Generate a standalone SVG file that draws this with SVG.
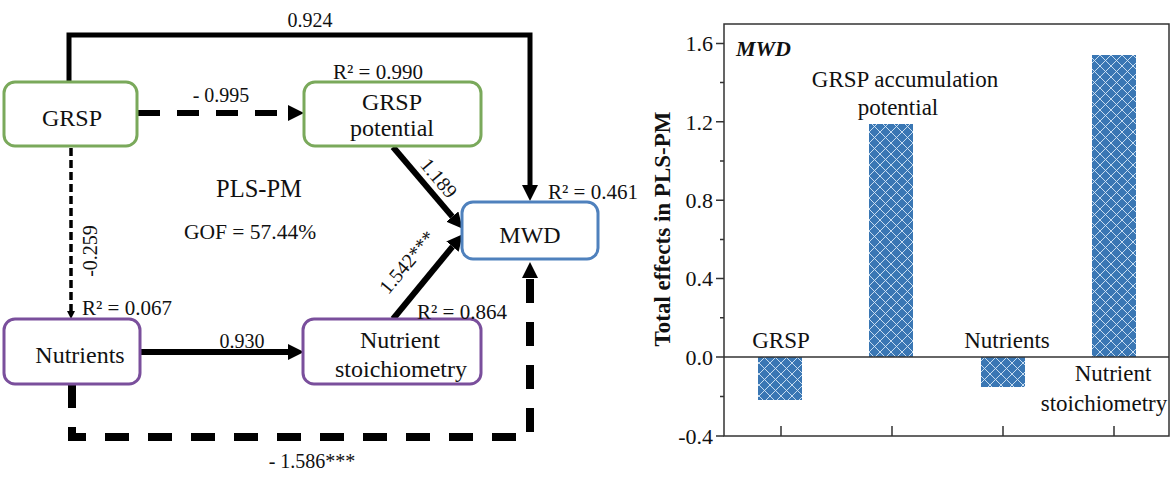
<svg xmlns="http://www.w3.org/2000/svg" width="1175" height="483" viewBox="0 0 1175 483" font-family="'Liberation Serif', 'DejaVu Serif', serif">
<style>
text{font-family:'Liberation Serif','DejaVu Serif',serif;fill:#111}
.node{fill:#fff;stroke-width:3}
.g{stroke:#7aa95b}
.p{stroke:#7a4f9c}
.b{stroke:#4f81bd}
.nt{font-size:24px;text-anchor:middle}
.r2{font-size:21px}
.el{font-size:20px;text-anchor:middle}
.big{text-anchor:middle}
.c{fill:none;stroke:#000}
.ax{stroke:#333;stroke-width:1.5;fill:none}
.tk{font-size:22px;text-anchor:end}
.cl{font-size:23px;text-anchor:middle}
.bar{fill:url(#hatch)}
</style>
<defs>
<marker id="ah" viewBox="0 0 16 16" refX="0" refY="8" markerWidth="16" markerHeight="16" markerUnits="userSpaceOnUse" orient="auto"><path d="M0,0 L16,8 L0,16 z" fill="#000"/></marker>
<marker id="ahs" viewBox="0 0 8 8" refX="0" refY="4" markerWidth="8" markerHeight="8" markerUnits="userSpaceOnUse" orient="auto"><path d="M0,0 L8,4 L0,8 z" fill="#000"/></marker>
<pattern id="hatch" patternUnits="userSpaceOnUse" width="11" height="11">
<rect width="11" height="11" fill="#3a77b4"/>
<path d="M0,0 L11,11 M11,0 L0,11 M-1,10 L1,12 M10,-1 L12,1 M-1,1 L1,-1 M10,12 L12,10" stroke="#d6e8f7" stroke-width="0.9"/>
</pattern>
</defs>
<rect width="1175" height="483" fill="#fff"/>

<g id="connectors">
<path class="c" d="M69,82 V35 H530 V185" stroke-width="5" marker-end="url(#ah)"/>
<path class="c" d="M138,113 H288" stroke-width="6" stroke-dasharray="22 17" marker-end="url(#ah)"/>
<path class="c" d="M71,148 V311" stroke-width="3.5" stroke-dasharray="8 4" marker-end="url(#ahs)"/>
<path class="c" d="M140,352 H288" stroke-width="6" marker-end="url(#ah)"/>
<path class="c" d="M393,147 L452.3,216.6" stroke-width="6" marker-end="url(#ah)"/>
<path class="c" d="M393,319 L452.5,246.6" stroke-width="6" marker-end="url(#ah)"/>
<path class="c" d="M72,384 V437 H530 V278" stroke-width="8" stroke-dasharray="24 19" marker-end="url(#ah)"/>
<text class="el" x="310" y="27">0.924</text>
<text class="el" x="221" y="102">- 0.995</text>
<text class="el" transform="translate(97,251) rotate(-90)">-0.259</text>
<text class="el" x="242" y="348">0.930</text>
<text class="el" transform="translate(439,178) rotate(50)" y="7">1.189</text>
<text class="el" transform="translate(407,262) rotate(-50)" y="7">1.542***</text>
<text class="el" x="312" y="468">- 1.586***</text>
</g>

<g id="node-grsp">
<rect class="node g" x="4" y="82" width="133" height="64" rx="11"/>
<text class="nt" x="72" y="126">GRSP</text>
</g>
<g id="node-grsp-potential">
<rect class="node g" x="304" y="82" width="177" height="64" rx="11"/>
<text class="nt" x="392" y="110">GRSP</text>
<text class="nt" x="392" y="136">potential</text>
<text class="r2" x="333" y="79">R² = 0.990</text>
</g>
<g id="node-mwd">
<rect class="node b" x="462" y="202" width="136" height="57" rx="11"/>
<text class="nt" x="530" y="243">MWD</text>
<text class="r2" x="548" y="199">R² = 0.461</text>
</g>
<g id="node-nutrients">
<rect class="node p" x="4" y="319" width="136" height="65" rx="11"/>
<text class="nt" x="80" y="363">Nutrients</text>
<text class="r2" x="82" y="315">R² = 0.067</text>
</g>
<g id="node-stoich">
<rect class="node p" x="303" y="319" width="178" height="65" rx="11"/>
<text class="nt" x="400" y="348">Nutrient</text>
<text class="nt" x="401" y="377">stoichiometry</text>
<text class="r2" x="417" y="319">R² = 0.864</text>
</g>

<g id="model-info">
<text class="big" x="259" y="197" style="font-size:24.5px">PLS-PM</text>
<text class="big" x="250" y="239" style="font-size:21.5px">GOF = 57.44%</text>
</g>

<g id="chart">
<rect class="bar" x="758" y="357" width="44" height="43"/>
<rect class="bar" x="869" y="124" width="44" height="233"/>
<rect class="bar" x="981" y="357" width="44" height="30"/>
<rect class="bar" x="1092" y="55" width="44" height="302"/>
<rect class="ax" x="724" y="24" width="445" height="412"/>
<line class="ax" x1="724" y1="357" x2="1169" y2="357"/>
<path class="ax" d="M716,43.4 H724 M716,121.8 H724 M716,200.2 H724 M716,278.6 H724 M716,357 H724 M716,436 H724 M720,82.6 H724 M720,161 H724 M720,239.4 H724 M720,317.8 H724 M720,396.6 H724 M781,436 V426 M892,436 V426 M1003,436 V426 M1114,436 V426"/>
<text class="tk" x="713" y="51">1.6</text>
<text class="tk" x="713" y="130">1.2</text>
<text class="tk" x="713" y="208">0.8</text>
<text class="tk" x="713" y="286">0.4</text>
<text class="tk" x="713" y="365">0.0</text>
<text class="tk" x="713" y="444">-0.4</text>
<text x="670" y="229" transform="rotate(-90 670 229)" style="font-size:23px;font-weight:bold;text-anchor:middle">Total effects in PLS-PM</text>
<text x="736" y="56" style="font-size:22px;font-weight:bold;font-style:italic">MWD</text>
<text class="cl" x="905" y="87">GRSP accumulation</text>
<text class="cl" x="898" y="115">potential</text>
<text class="cl" x="781" y="348">GRSP</text>
<text class="cl" x="1007" y="348">Nutrients</text>
<text class="cl" x="1113" y="381">Nutrient</text>
<text class="cl" x="1104" y="411">stoichiometry</text>
</g>
</svg>
